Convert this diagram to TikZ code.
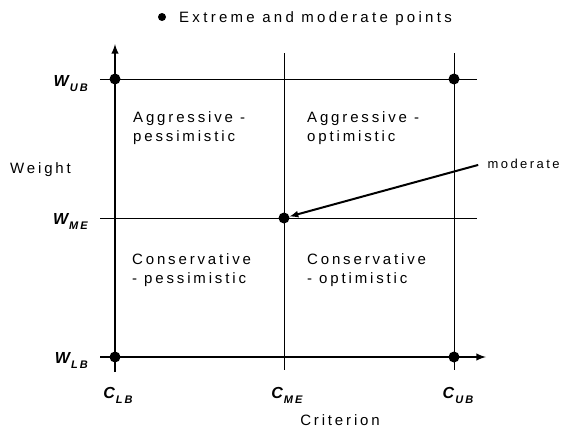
\documentclass[tikz,border=0pt]{standalone}
\usepackage{fontspec}
\setmainfont{Liberation Sans}[LetterSpace=19]
\usetikzlibrary{arrows, positioning}

\newcommand{\limlab}[2]{{\fontsize{16}{16}\selectfont\bfseries\itshape #1\kern1pt\raisebox{-5pt}{\fontsize{11}{11}\selectfont #2}}}

\tikzset{
    bigdot/.style={circle, fill, minimum size=11pt, inner sep=0pt},
    axis/.style={line width=2.3pt, -latex},
    grid/.style={line width=1pt},
    quad/.style={anchor=base west, align=left, inner sep=0pt}
}

\begin{document}
\begin{tikzpicture}[x=1pt, y=-1pt, font=\fontsize{15}{19}\selectfont]
    \useasboundingbox (0,0) rectangle (565,431);

    % legend
    \node[circle, fill, minimum size=8pt, inner sep=0pt] (legdot) at (162,17) {};
    \node[anchor=base west, inner sep=0pt, font=\fontsize{15}{19}\selectfont\addfontfeatures{LetterSpace=22}] (legend) at (179,23) {Extreme and moderate points};

    % grid lines
    \draw[grid] (100,79) -- (477,79);
    \draw[grid] (100,218) -- (477,218);
    \draw[grid] (284,53) -- (284,370);
    \draw[grid] (454,53) -- (454,370);

    % axes
    \draw[axis] (115,372) -- (115,44);
    \draw[axis] (100,357) -- (486,357);

    % points
    \node[bigdot] (dUL) at (115,79) {};
    \node[bigdot] (dUR) at (454,79) {};
    \node[bigdot] (dM) at (284,218) {};
    \node[bigdot] (dLL) at (115,357) {};
    \node[bigdot] (dLR) at (454,357) {};

    % bounds
    \node[anchor=base east, inner sep=0pt] (wub) at (88,86) {\limlab{W}{UB}};
    \node[anchor=base east, inner sep=0pt] (wme) at (88,224) {\limlab{W}{ME}};
    \node[anchor=base east, inner sep=0pt] (wlb) at (88,363) {\limlab{W}{LB}};
    \node[anchor=base, inner sep=0pt] (clb) at (118,398) {\limlab{C}{LB}};
    \node[anchor=base, inner sep=0pt] (cme) at (287,398) {\limlab{C}{ME}};
    \node[anchor=base, inner sep=0pt] (cub) at (458,398) {\limlab{C}{UB}};

    % axis names
    \node[anchor=base west, inner sep=0pt] (weight) at (10,173) {Weight};
    \node[anchor=base, inner sep=0pt] (crit) at (340,425) {Criterion};

    % quadrants
    \node[quad] (ap) at (133,141) {Aggressive -\\pessimistic};
    \node[quad] (ao) at (307,141) {Aggressive -\\optimistic};
    \node[quad] (cp) at (132,283) {Conservative\\- pessimistic};
    \node[quad] (co) at (307,283) {Conservative\\- optimistic};

    % moderate point
    \node[anchor=base west, font=\fontsize{13}{15}\selectfont] (moderate) at (484,168) {moderate};
    \draw[line width=2pt, -latex, shorten <=6pt] (moderate.west) -- (dM);
\end{tikzpicture}
\end{document}
